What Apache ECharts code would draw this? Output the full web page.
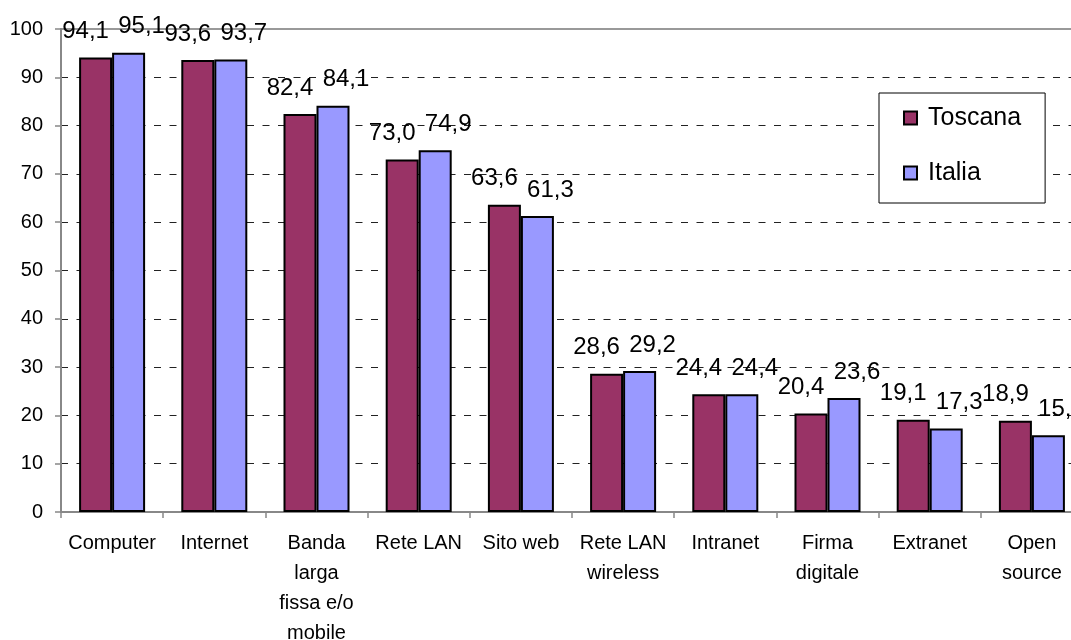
<!DOCTYPE html>
<html>
<head>
<meta charset="utf-8">
<script src="https://cdn.jsdelivr.net/npm/echarts@6/dist/echarts.min.js"></script>
<style>
  html, body { margin: 0; padding: 0; background: #fff; }
  #chart { width: 1071px; height: 640px; }
</style>
</head>
<body>
<div id="chart"></div>
<script>
var categories = ['Computer', 'Internet', 'Banda\nlarga\nfissa e/o\nmobile', 'Rete LAN', 'Sito web',
  'Rete LAN\nwireless', 'Intranet', 'Firma\ndigitale', 'Extranet', 'Open\nsource']
var toscana = [94.1, 93.6, 82.4, 73.0, 63.6, 28.6, 24.4, 20.4, 19.1, 18.9]
var italia = [95.1, 93.7, 84.1, 74.9, 61.3, 29.2, 24.4, 23.6, 17.3, 15.9]

var font = 'Liberation Sans, Arial, sans-serif'

function fmt(p) {
  return p.value.toFixed(1).replace('.', ',')
}

var myChart = echarts.init(document.getElementById('chart'))
var option = {
  animation: false,
  textStyle: { fontFamily: font, color: '#000' },
  grid: {
    left: 61,
    top: 29,
    width: 1022,
    bottom: 128,
    outerBoundsMode: 'none',
    containLabel: false,
    show: true,
    borderColor: '#999',
    borderWidth: 2
  },
  legend: {
    orient: 'vertical',
    left: 879,
    top: 93,
    padding: [12, 24, 17, 24],
    itemGap: 29,
    itemWidth: 13,
    itemHeight: 13,
    icon: 'rect',
    backgroundColor: '#fff',
    borderColor: '#000',
    borderWidth: 1,
    textStyle: { fontFamily: font, fontSize: 25, color: '#000', lineHeight: 26, padding: [0, 0, 0, 6] },
    data: ['Toscana', 'Italia']
  },
  xAxis: {
    type: 'category',
    data: categories,
    boundaryGap: true,
    axisLine: { lineStyle: { color: '#888', width: 2 } },
    axisTick: { show: true, length: 6, lineStyle: { color: '#888', width: 1.5 } },
    axisLabel: {
      interval: 0,
      margin: 16,
      fontFamily: font,
      fontSize: 20,
      lineHeight: 30,
      color: '#000'
    }
  },
  yAxis: {
    type: 'value',
    min: 0,
    max: 100,
    interval: 10,
    axisLine: { show: true, lineStyle: { color: '#888', width: 2 } },
    axisTick: { show: true, length: 6, lineStyle: { color: '#888', width: 1.5 } },
    axisLabel: { margin: 18, fontFamily: font, fontSize: 20, color: '#000' },
    splitLine: {
      show: true,
      showMaxLine: false,
      lineStyle: { color: '#222', width: 1, type: [7, 8.5] }
    }
  },
  series: [
    {
      name: 'Toscana',
      type: 'bar',
      data: toscana,
      barWidth: 33,
      barGap: '0%',
      itemStyle: { color: '#993366', borderColor: '#000', borderWidth: 2 },
      label: {
        show: true,
        position: 'top',
        distance: 14,
        offset: [-10, 0],
        formatter: fmt,
        fontFamily: font,
        fontSize: 24,
        color: '#000'
      }
    },
    {
      name: 'Italia',
      type: 'bar',
      data: italia,
      barWidth: 33,
      barGap: '0%',
      itemStyle: { color: '#9999FF', borderColor: '#000', borderWidth: 2 },
      label: {
        show: true,
        position: 'top',
        distance: 14,
        offset: [13, 0],
        formatter: fmt,
        fontFamily: font,
        fontSize: 24,
        color: '#000'
      }
    }
  ]
}
myChart.setOption(option)
</script>
</body>
</html>
